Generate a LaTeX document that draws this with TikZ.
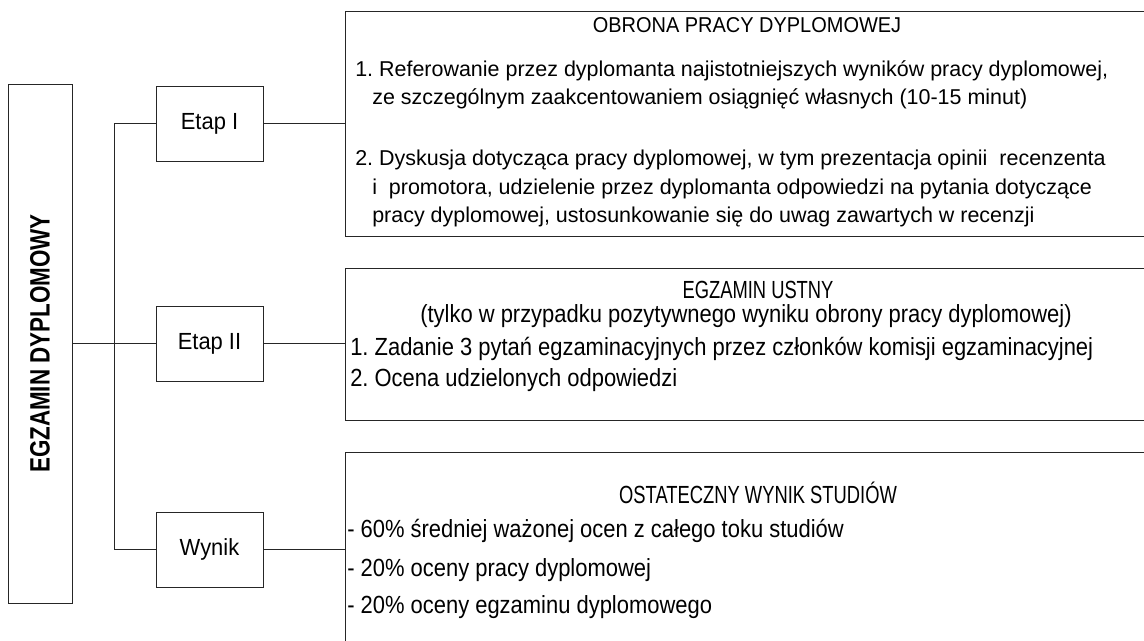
\documentclass[tikz,border=0pt]{standalone}
\usepackage{fontspec}
\setmainfont{Liberation Sans}
\newfontfamily\waskifont[FakeStretch=0.885]{Liberation Sans}
\newfontfamily\etapfont[FakeStretch=0.94]{Liberation Sans}
\newfontfamily\pionfont[FakeStretch=0.8]{Liberation Sans}
\newfontfamily\tytulfont[FakeStretch=0.93]{Liberation Sans}
\newfontfamily\naglowekfont[FakeStretch=0.74]{Liberation Sans}
\usetikzlibrary{positioning,calc}
\tikzset{
	ramka/.style={draw=black!85, line width=0.75pt, inner sep=0pt},
	etap/.style={ramka, minimum width=80.25pt, minimum height=56.25pt, font=\fontsize{17.5}{20}\etapfont},
	panel/.style={ramka, anchor=north west, minimum width=675pt},
	linia/.style={draw=black!85, line width=0.75pt},
	tekst/.style={anchor=base west, inner sep=0pt, font=\fontsize{16.1}{19}\selectfont},
	tytul/.style={anchor=base, inner sep=0pt, font=\fontsize{16.1}{19}\tytulfont},
	waski/.style={anchor=base west, inner sep=0pt, font=\fontsize{18.6}{21}\waskifont},
	waskipod/.style={anchor=base, inner sep=0pt, font=\fontsize{18.6}{21}\waskifont},
	waskitytul/.style={anchor=base, inner sep=0pt, font=\fontsize{18.6}{21}\naglowekfont}
}
\begin{document}
\frenchspacing
\begin{tikzpicture}[x=0.75pt,y=-0.75pt]
		\useasboundingbox (0,0) rectangle (1144,640);
		\clip (0,0) rectangle (1144,640);
		
		%%%lewa kolumna
		\node[ramka, minimum width=48pt, minimum height=389.25pt] (egzamin) at (40,343.5) {};
		\node[rotate=90, font=\fontsize{21}{24}\pionfont\bfseries] (egzaminopis) at (egzamin.center) {EGZAMIN DYPLOMOWY};
		
		%%%etapy
		\node[etap] (etap1) at (209.5,123.5) {Etap I};
		\node[etap] (etap2) at (209.5,343.5) {Etap II};
		\node[etap] (wynik) at (209.5,549.5) {Wynik};
		\coordinate (pien) at (114,343.5);
		
		%%%panele
		\node[panel, minimum height=168.75pt] (obrona) at (345,11) {};
		\node[panel, minimum height=114pt] (ustny) at (345,268) {};
		\node[panel, minimum height=186pt] (studia) at (345,452) {};
		
		\draw[linia] (egzamin.east |- pien) -- (etap2.west);
		\draw[linia] (etap1.west) -- (etap1.west -| pien) |- (wynik.west);
		\draw[linia] (etap1.east) -- (etap1.east -| obrona.west);
		\draw[linia] (etap2.east) -- (etap2.east -| ustny.west);
		\draw[linia] (wynik.east) -- (wynik.east -| studia.west);
		
		%%%obrona pracy
		\node[tytul] (obronatyt) at (747,32) {OBRONA PRACY DYPLOMOWEJ};
		\node[tekst] (obrona1a) at (355,76) {1. Referowanie przez dyplomanta najistotniejszych wyników pracy dyplomowej,};
		\node[tekst] (obrona1b) at (372,104) {ze szczególnym zaakcentowaniem osiągnięć własnych (10-15 minut)};
		\node[tekst] (obrona2a) at (355,165) {2. Dyskusja dotycząca pracy dyplomowej, w tym prezentacja opinii\ \ recenzenta};
		\node[tekst] (obrona2b) at (372,194) {i\ \ promotora, udzielenie przez dyplomanta odpowiedzi na pytania dotyczące};
		\node[tekst] (obrona2c) at (372,222) {pracy dyplomowej, ustosunkowanie się do uwag zawartych w recenzji};
		
		%%%egzamin ustny
		\node[waskitytul] (ustnytyt) at (758,298) {EGZAMIN USTNY};
		\node[waskipod] (ustnypod) at (746,322) {(tylko w przypadku pozytywnego wyniku obrony pracy dyplomowej)};
		\node[waski] (ustny1) at (350,355) {1. Zadanie 3 pytań egzaminacyjnych przez członków komisji egzaminacyjnej};
		\node[waski] (ustny2) at (350,386) {2. Ocena udzielonych odpowiedzi};
		
		%%%wynik studiow
		\node[waskitytul] (studiatyt) at (758,503) {OSTATECZNY WYNIK STUDIÓW};
		\node[waski] (studia1) at (347,537) {- 60\% średniej ważonej ocen z całego toku studiów};
		\node[waski] (studia2) at (347,576) {- 20\% oceny pracy dyplomowej};
		\node[waski] (studia3) at (347,613) {- 20\% oceny egzaminu dyplomowego};
	\end{tikzpicture}
\end{document}
